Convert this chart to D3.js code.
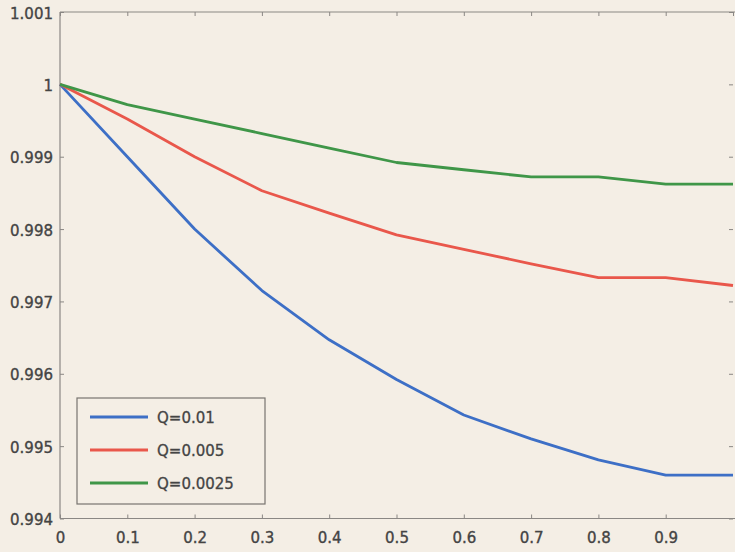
<!DOCTYPE html>
<html>
<head>
<meta charset="utf-8">
<script src="https://cdn.jsdelivr.net/npm/d3@7"></script>
<style>
  html, body { margin: 0; padding: 0; background: #f4eee5; }
  svg { display: block; }
  .tick-label { font-family: "DejaVu Sans", Verdana, sans-serif; font-size: 15px; fill: #444; stroke: #444; stroke-width: 0.35px; }
  .legend-text { font-family: "DejaVu Sans", Verdana, sans-serif; font-size: 15px; fill: #444; stroke: #444; stroke-width: 0.3px; }
</style>
</head>
<body>
<div id="chart"></div>
<script>
// data
const xValues = [0, 0.1, 0.2, 0.3, 0.4, 0.5, 0.6, 0.7, 0.8, 0.9, 1.0];
const q001 = [1.0, 0.9990, 0.9980, 0.99715, 0.99647, 0.99592, 0.99543, 0.9951, 0.99481, 0.9946, 0.9946];
const q0005 = [1.0, 0.99952, 0.9990, 0.99853, 0.99822, 0.99792, 0.99772, 0.99752, 0.99733, 0.99733, 0.99722];
const q00025 = [1.0, 0.99972, 0.99952, 0.99932, 0.99912, 0.99892, 0.99882, 0.99872, 0.99872, 0.99862, 0.99862];
const seriesNames = ['Q=0.01', 'Q=0.005', 'Q=0.0025'];
const xTicks = [0, 0.1, 0.2, 0.3, 0.4, 0.5, 0.6, 0.7, 0.8, 0.9];
const yTicks = [0.994, 0.995, 0.996, 0.997, 0.998, 0.999, 1, 1.001];

const colors = ['#3d6fc6', '#e9574b', '#3f9648'];
const series = [q001, q0005, q00025];

const width = 735;
const height = 552;
const margin = { top: 12, left: 60, bottom: 33.5, right: 2 };

const svg = d3.select('#chart')
  .append('svg')
  .attr('width', width)
  .attr('height', height);

// background of the scanned page
svg.append('rect')
  .attr('width', width)
  .attr('height', height)
  .attr('fill', '#f4eee5');

const xScale = d3.scaleLinear().domain([0, 1]).range([margin.left, width - margin.right]);
const yScale = d3.scaleLinear().domain([0.994, 1.001]).range([height - margin.bottom, margin.top]);

// frame
const frame = svg.append('g').attr('stroke', '#8a8784').attr('stroke-width', 1.2).attr('fill', 'none');
frame.append('line')
  .attr('x1', xScale(0)).attr('x2', width + 5)
  .attr('y1', yScale(1.001)).attr('y2', yScale(1.001));
frame.append('line')
  .attr('x1', xScale(0)).attr('x2', width + 5)
  .attr('y1', yScale(0.994)).attr('y2', yScale(0.994));
frame.append('line')
  .attr('x1', xScale(0)).attr('x2', xScale(0))
  .attr('y1', yScale(1.001)).attr('y2', yScale(0.994));

// bottom axis, ticks inward
const xAxis = d3.axisBottom(xScale)
  .tickValues(xTicks)
  .tickSize(-4)
  .tickPadding(10)
  .tickFormat(d => d3.format('')(d));

const gx = svg.append('g')
  .attr('transform', `translate(0, ${yScale(0.994)})`)
  .call(xAxis);
gx.select('.domain').remove();
gx.selectAll('.tick line').attr('stroke', '#8a8784');
gx.selectAll('.tick text').attr('class', 'tick-label').attr('dy', '0.95em');

// top axis ticks
const gxTop = svg.append('g')
  .attr('transform', `translate(0, ${yScale(1.001)})`)
  .call(d3.axisTop(xScale).tickValues(xTicks.concat([1])).tickSize(-4).tickFormat(''));
gxTop.select('.domain').remove();
gxTop.selectAll('.tick line').attr('stroke', '#8a8784');

// left axis
const yAxis = d3.axisLeft(yScale)
  .tickValues(yTicks)
  .tickSize(-4)
  .tickPadding(7)
  .tickFormat(d => d3.format('')(+d.toFixed(3)));

const gy = svg.append('g')
  .attr('transform', `translate(${xScale(0)}, 0)`)
  .call(yAxis);
gy.select('.domain').remove();
gy.selectAll('.tick line').attr('stroke', '#8a8784');
gy.selectAll('.tick text').attr('class', 'tick-label').attr('dy', '0.4em');

// right axis ticks (frame edge is off the picture)
const gyRight = svg.append('g')
  .attr('transform', `translate(${xScale(1)}, 0)`)
  .call(d3.axisRight(yScale).tickValues(yTicks).tickSize(-4).tickFormat(''));
gyRight.select('.domain').remove();
gyRight.selectAll('.tick line').attr('stroke', '#8a8784');

// curves
const line = d3.line()
  .x((d, i) => xScale(xValues[i]))
  .y(d => yScale(d));

svg.append('g')
  .selectAll('path')
  .data(series)
  .join('path')
  .attr('d', d => line(d))
  .attr('fill', 'none')
  .attr('stroke', (d, i) => colors[i])
  .attr('stroke-width', 2.8)
  .attr('stroke-linejoin', 'round');

// legend
const legend = svg.append('g').attr('transform', 'translate(77, 398)');
legend.append('rect')
  .attr('width', 188)
  .attr('height', 106)
  .attr('fill', '#f4eee5')
  .attr('stroke', '#77746f')
  .attr('stroke-width', 1.2);

const items = legend.selectAll('g.item')
  .data(seriesNames)
  .join('g')
  .attr('class', 'item')
  .attr('transform', (d, i) => `translate(0, ${19 + i * 33})`);

items.append('line')
  .attr('x1', 13).attr('x2', 71)
  .attr('y1', 0).attr('y2', 0)
  .attr('stroke', (d, i) => colors[i])
  .attr('stroke-width', 2.8);

items.append('text')
  .attr('class', 'legend-text')
  .attr('x', 80)
  .attr('dy', '0.38em')
  .text(d => d);
</script>
</body>
</html>
